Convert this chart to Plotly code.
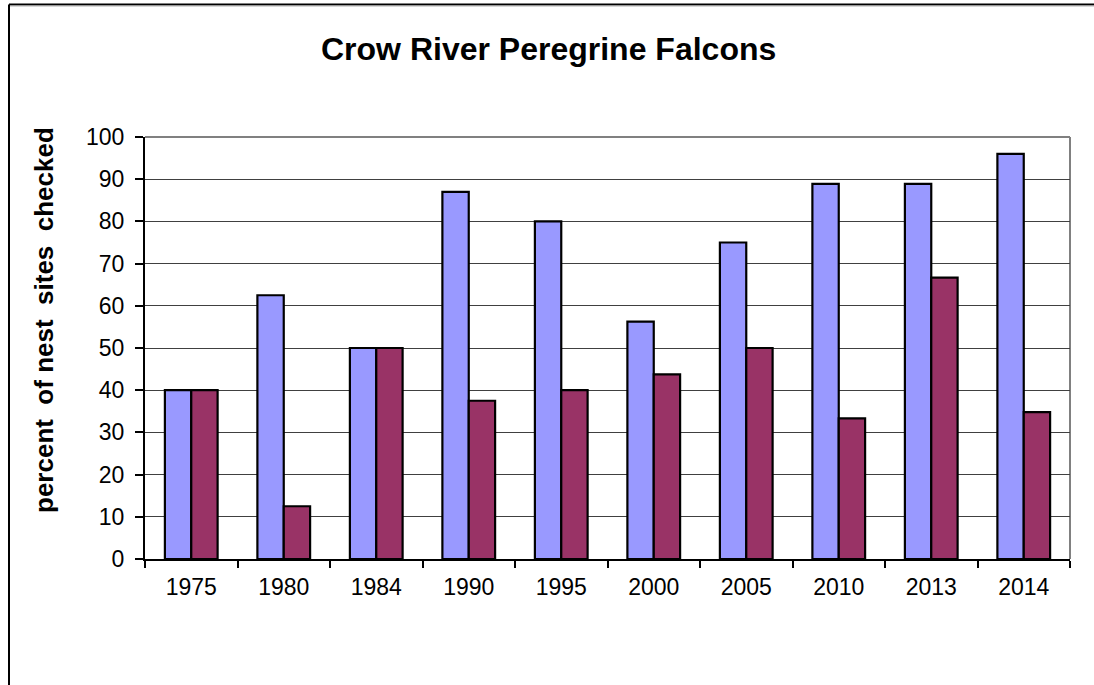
import plotly.graph_objects as go

years = ["1975", "1980", "1984", "1990", "1995", "2000", "2005", "2010", "2013", "2014"]
series_a = [40, 62.5, 50, 87, 80, 56.25, 75, 88.9, 88.9, 96]
series_b = [40, 12.5, 50, 37.5, 40, 43.75, 50, 33.3, 66.7, 34.8]
y_ticks = [0, 10, 20, 30, 40, 50, 60, 70, 80, 90, 100]

FONT = "Liberation Sans, Arial, sans-serif"
W, H = 1094, 685
# plot area in page pixels: x 145..1070, y 137..559
L, T = 145, 137
R, B = W - 1070, H - 559
pw, ph = W - L - R, H - T - B


def px_x(x):
    return (x - L) / pw


def px_y(y):
    return (H - B - y) / ph


fig = go.Figure()
fig.add_trace(go.Bar(x=years, y=series_a, name="Series 1",
                     marker=dict(color="#9999FF", line=dict(color="#000000", width=2.2))))
fig.add_trace(go.Bar(x=years, y=series_b, name="Series 2",
                     marker=dict(color="#993366", line=dict(color="#000000", width=2.2))))

fig.update_layout(
    width=W, height=H,
    margin=dict(l=L, r=R, t=T, b=B, autoexpand=False),
    paper_bgcolor="white", plot_bgcolor="white",
    barmode="group", bargap=0.43, bargroupgap=0,
    showlegend=False,
    font=dict(family=FONT, color="#000000"),
    xaxis=dict(
        type="category", tickson="boundaries", ticks="outside", ticklen=7,
        tickcolor="#000000", tickwidth=1.5, ticklabelstandoff=6,
        showline=True, linecolor="#000000", linewidth=2,
        tickfont=dict(size=23, family=FONT, color="#000000"),
        showgrid=False,
    ),
    yaxis=dict(
        range=[0, 100], tickvals=y_ticks, ticks="outside", ticklen=8,
        tickcolor="#000000", tickwidth=1.5, ticklabelstandoff=6,
        showline=True, linecolor="#000000", linewidth=2,
        showgrid=True, gridcolor="#404040", gridwidth=1.2,
        tickfont=dict(size=23, family=FONT, color="#000000"),
        zeroline=False,
    ),
)

# plot area frame (gray top/right)
fig.add_shape(type="line", xref="paper", yref="paper", x0=0, x1=1, y0=1, y1=1,
              line=dict(color="#808080", width=2), layer="below")
fig.add_shape(type="line", xref="paper", yref="paper", x0=1, x1=1, y0=0, y1=1,
              line=dict(color="#808080", width=2), layer="below")

# outer chart border (cropped: left and top visible)
fig.add_shape(type="line", xref="paper", yref="paper",
              x0=px_x(9), x1=px_x(W + 10), y0=px_y(4.5), y1=px_y(4.5),
              line=dict(color="#000000", width=2))
fig.add_shape(type="line", xref="paper", yref="paper",
              x0=px_x(9), x1=px_x(W + 10), y0=px_y(6), y1=px_y(6),
              line=dict(color="#B0B0B0", width=1))
fig.add_shape(type="line", xref="paper", yref="paper",
              x0=px_x(9), x1=px_x(9), y0=px_y(4.5), y1=px_y(H + 10),
              line=dict(color="#000000", width=2))

fig.add_annotation(text="<b>Crow River Peregrine Falcons</b>", xref="paper", yref="paper",
                   x=px_x(548), y=px_y(49), xanchor="center", yanchor="middle",
                   showarrow=False, font=dict(size=32, family=FONT, color="#000000"))
fig.add_annotation(text="<b>percent  of nest  sites  checked</b>", xref="paper", yref="paper",
                   x=px_x(44), y=px_y(320), xanchor="center", yanchor="middle",
                   textangle=-90, showarrow=False,
                   font=dict(size=26, family=FONT, color="#000000"))

fig.write_html("out.html", config={"displayModeBar": False},
               post_script="document.body.style.margin='0px';document.body.style.overflow='hidden';")
